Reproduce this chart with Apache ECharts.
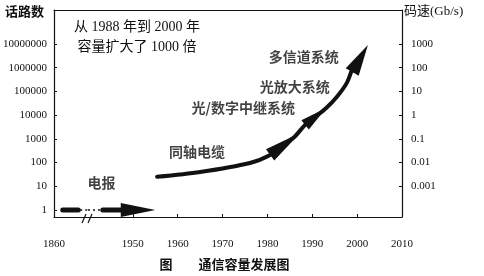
<!DOCTYPE html>
<html>
<head>
<meta charset="utf-8">
<script src="https://cdn.jsdelivr.net/npm/echarts@6/dist/echarts.min.js"></script>
<style>html,body{margin:0;padding:0;background:#fff}#c{width:484px;height:276px}</style>
</head>
<body>
<div id="c"></div>
<script>
// ---- data ----
const yTicksLeft = [1, 10, 100, 1000, 10000, 100000, 1000000, 10000000];
const yTicksRight = [0.001, 0.01, 0.1, 1, 10, 100, 1000];
const xTicksEarly = [1860];
const xTicksLate = [1950, 1960, 1970, 1980, 1990, 2000, 2010];

const telegraphValue = 1;
const telegraphEarlyYears = [1861.8, 1865.0];
const telegraphEarlyDotYears = [1865.4, 1867];
const telegraphLateDotYears = [1940, 1942.8];
const telegraphLateYears = [1943.3, 1948.5];

const curveYears = [1955.4, 1965.0, 1976.1, 1980.6, 1983.5, 1986.0, 1988.4, 1990.5, 1993.1, 1995.5, 1997.7, 1999.1, 2000.3];
const curveChannels = [25, 40, 96, 210, 550, 1200, 3900, 8000, 20000, 60000, 230000, 1070000, 2500000];

// arrowheads: [tailYear, tailValue, tipYear, tipValue]
const arrowTelegraph = [1947.3, 1, 1955.0, 1];
const arrowCoax = [1980.6, 210, 1987.3, 1780];
const arrowOptical = [1988.4, 3900, 1993.1, 20000];
const arrowMulti = [1998.9, 660000, 2002.4, 9000000];

const stageLabels = [
  { name: '电报', year: 1943, value: 14 },
  { name: '同轴电缆', year: 1964.3, value: 280 },
  { name: '光/数字中继系统', year: 1974.6, value: 20000 },
  { name: '光放大系统', year: 1986.1, value: 155000 },
  { name: '多信道系统', year: 1988.1, value: 2800000 }
];

const leftAxisName = '话路数';
const rightAxisName = '码速(Gb/s)';
const noteLines = ['从 1988 年到 2000 年', '容量扩大了 1000 倍'];
const captionFig = '图';
const captionTitle = '通信容量发展图';

// ---- style / layout ----
const INK = '#111';
const SERIF = "'Liberation Serif', 'Noto Sans CJK SC'";
const CJK = "'Noto Sans CJK SC', 'Liberation Serif'";
const Y_MIN = 0.507, Y_MAX = 2.716e8;
const RIGHT_FACTOR = 1e-4; // 1000 Gb/s aligns with 10^7 channels
const ARROW_HALF = [7, 7, 6, 7.5];

const zip = (xs, ys) => xs.map((x, i) => [x, ys[i]]);

const chart = echarts.init(document.getElementById('c'), null, { renderer: 'canvas' });

const axisLabelStyle = { color: INK, fontFamily: SERIF, fontSize: 11 };

const arrowSeries = {
  type: 'custom',
  xAxisIndex: 1, yAxisIndex: 1,
  silent: true,
  clip: false,
  encode: { x: [0, 2], y: [1, 3] },
  data: [arrowTelegraph, arrowCoax, arrowOptical, arrowMulti],
  renderItem: function (params, api) {
    const tail = api.coord([api.value(0), api.value(1)]);
    const tip = api.coord([api.value(2), api.value(3)]);
    const hw = ARROW_HALF[params.dataIndex];
    const dx = tip[0] - tail[0], dy = tip[1] - tail[1];
    const len = Math.hypot(dx, dy) || 1;
    const nx = -dy / len * hw, ny = dx / len * hw;
    return {
      type: 'polygon',
      shape: { points: [[tail[0] + nx, tail[1] + ny], [tip[0], tip[1]], [tail[0] - nx, tail[1] - ny]] },
      style: { fill: INK }
    };
  }
};

const option = {
  animation: false,
  backgroundColor: '#fff',
  grid: [
    { left: 53, right: 484 - 88, top: 10, bottom: 59 },
    { left: 88, right: 82, top: 10, bottom: 59 }
  ],
  xAxis: [
    { type: 'value', gridIndex: 0, min: 1860, max: 1867, position: 'bottom',
      axisLine: { onZero: false, lineStyle: { color: INK, width: 1 } },
      axisTick: { inside: true, length: 3, customValues: xTicksEarly, lineStyle: { color: INK } },
      axisLabel: Object.assign({ margin: 22, customValues: xTicksEarly, formatter: v => String(v) }, axisLabelStyle),
      splitLine: { show: false } },
    { type: 'value', gridIndex: 1, min: 1940, max: 2010, position: 'bottom',
      axisLine: { onZero: false, lineStyle: { color: INK, width: 1 } },
      axisTick: { inside: true, length: 3, customValues: xTicksLate, lineStyle: { color: INK } },
      axisLabel: Object.assign({ margin: 22, customValues: xTicksLate, formatter: v => String(v) }, axisLabelStyle),
      splitLine: { show: false } },
    { type: 'value', gridIndex: 0, min: 1860, max: 1867, position: 'top',
      axisLine: { onZero: false, lineStyle: { color: INK, width: 1.2 } },
      axisTick: { show: false }, axisLabel: { show: false }, splitLine: { show: false } },
    { type: 'value', gridIndex: 1, min: 1940, max: 2010, position: 'top',
      axisLine: { onZero: false, lineStyle: { color: INK, width: 1.2 } },
      axisTick: { show: false }, axisLabel: { show: false }, splitLine: { show: false } }
  ],
  yAxis: [
    { type: 'log', gridIndex: 0, min: Y_MIN, max: Y_MAX, position: 'left',
      axisLine: { show: true, onZero: false, lineStyle: { color: INK, width: 1.2 } },
      axisTick: { show: true, inside: true, length: 3, customValues: yTicksLeft, lineStyle: { color: INK } },
      axisLabel: Object.assign({ margin: 7, customValues: yTicksLeft, formatter: v => String(Math.round(v)) }, axisLabelStyle),
      splitLine: { show: false } },
    { type: 'log', gridIndex: 1, min: Y_MIN, max: Y_MAX, show: false },
    { type: 'log', gridIndex: 1, min: Y_MIN * RIGHT_FACTOR, max: Y_MAX * RIGHT_FACTOR, position: 'right',
      axisLine: { show: true, onZero: false, lineStyle: { color: INK, width: 1.2 } },
      axisTick: { show: true, inside: true, length: 3, customValues: yTicksRight, lineStyle: { color: INK } },
      axisLabel: Object.assign({ margin: 9, customValues: yTicksRight,
        formatter: v => { const m = yTicksRight.find(t => Math.abs(Math.log10(t) - Math.log10(v)) < 1e-6); return m === undefined ? '' : String(m); } }, axisLabelStyle),
      splitLine: { show: false } }
  ],
  series: [
    { type: 'line', xAxisIndex: 0, yAxisIndex: 0, symbol: 'none', silent: true,
      data: zip(telegraphEarlyYears, telegraphEarlyYears.map(() => telegraphValue)),
      lineStyle: { color: INK, width: 5, cap: 'round' } },
    { type: 'line', xAxisIndex: 0, yAxisIndex: 0, symbol: 'none', silent: true,
      data: zip(telegraphEarlyDotYears, telegraphEarlyDotYears.map(() => telegraphValue)),
      lineStyle: { color: INK, width: 1.5, type: [2, 3] } },
    { type: 'line', xAxisIndex: 1, yAxisIndex: 1, symbol: 'none', silent: true,
      data: zip(telegraphLateDotYears, telegraphLateDotYears.map(() => telegraphValue)),
      lineStyle: { color: INK, width: 1.5, type: [2, 3] } },
    { type: 'line', xAxisIndex: 1, yAxisIndex: 1, symbol: 'none', silent: true,
      data: zip(telegraphLateYears, telegraphLateYears.map(() => telegraphValue)),
      lineStyle: { color: INK, width: 5, cap: 'round' } },
    { type: 'line', xAxisIndex: 1, yAxisIndex: 1, symbol: 'none', silent: true, smooth: 0.3,
      data: zip(curveYears, curveChannels),
      lineStyle: { color: INK, width: 4, cap: 'round', join: 'round' } },
    arrowSeries,
    { type: 'scatter', xAxisIndex: 1, yAxisIndex: 1, symbolSize: 0, silent: true,
      data: stageLabels.map(d => ({ name: d.name, value: [d.year, d.value] })),
      label: { show: true, position: 'inside', formatter: '{b}', color: INK,
        fontFamily: CJK, fontSize: 14, fontWeight: 'bold' } }
  ],
  graphic: [
    { type: 'text', left: 5, top: 5, style: { text: leftAxisName, fill: INK, font: "bold 13px " + CJK } },
    { type: 'text', left: 404, top: 5, style: { text: rightAxisName, fill: INK, font: "13px " + SERIF } },
    { type: 'text', x: 137, y: 27, style: { text: noteLines[0], fill: INK, font: "14px " + SERIF, textAlign: 'center', textVerticalAlign: 'middle' } },
    { type: 'text', x: 137, y: 47, style: { text: noteLines[1], fill: INK, font: "14px " + SERIF, textAlign: 'center', textVerticalAlign: 'middle' } },
    { type: 'text', x: 166, y: 264, style: { text: captionFig, fill: INK, font: "bold 13px " + CJK, textAlign: 'center', textVerticalAlign: 'middle' } },
    { type: 'text', x: 244, y: 264, style: { text: captionTitle, fill: INK, font: "bold 13px " + CJK, textAlign: 'center', textVerticalAlign: 'middle' } },
    { type: 'line', shape: { x1: 82, y1: 223, x2: 86, y2: 214 }, style: { stroke: INK, lineWidth: 1.2 } },
    { type: 'line', shape: { x1: 88, y1: 223, x2: 92, y2: 214 }, style: { stroke: INK, lineWidth: 1.2 } }
  ]
};

chart.setOption(option);
</script>
</body>
</html>
